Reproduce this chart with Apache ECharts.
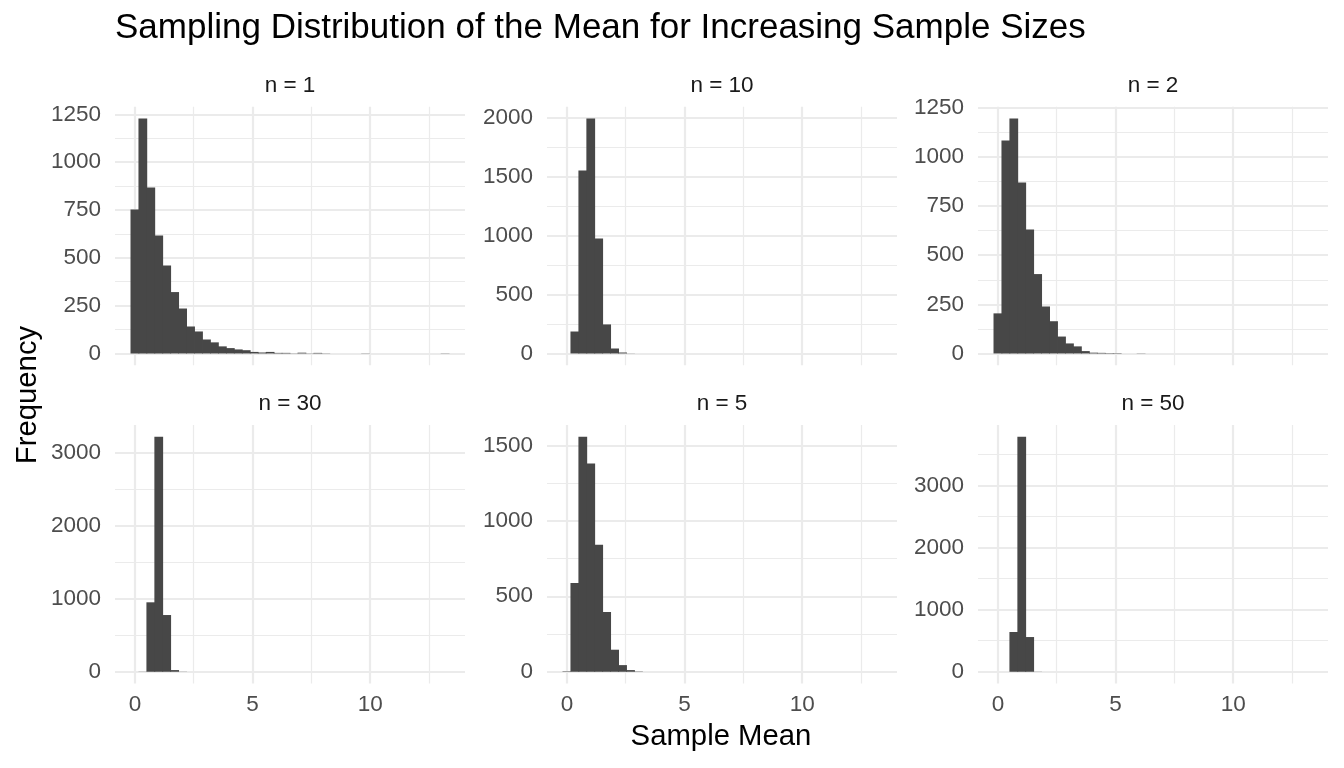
<!DOCTYPE html>
<html>
<head>
<meta charset="utf-8">
<title>Sampling Distribution of the Mean</title>
<script src="https://cdn.jsdelivr.net/npm/echarts@6/dist/echarts.min.js"></script>
<style>
  html, body { margin: 0; padding: 0; background: #fff; }
  #chart { width: 1344px; height: 768px; }
</style>
</head>
<body>
<div id="chart"></div>
<script>
const FONT = '"Liberation Sans", Arial, Helvetica, sans-serif';
const barColor = '#474747';
const gridColor = '#EBEBEB';

// histogram bins shared by every panel (bin k is centred on k * binWidth)
const binWidth = 0.338;
const binCount = 40;

const panelNames = ['n = 1', 'n = 10', 'n = 2', 'n = 30', 'n = 5', 'n = 50'];

// counts per bin
const countsN1 = [753, 1229, 868, 617, 460, 321, 235, 141, 115, 73, 58, 37, 28, 21, 17, 8, 5, 8, 3, 3,
                  1, 4, 1, 3, 1, 0, 0, 0, 0, 1, 0, 0, 0, 0, 0, 0, 0, 0, 0, 1];
const countsN10 = [0, 186, 1551, 1992, 975, 246, 42, 8, 1];
const countsN2 = [204, 1084, 1196, 870, 631, 404, 239, 164, 86, 51, 36, 12, 4, 3, 2, 2, 0, 0, 1];
const countsN30 = [0, 2, 950, 3215, 776, 23, 2];
const countsN5 = [3, 588, 1557, 1380, 841, 396, 146, 44, 11, 2];
const countsN50 = [0, 0, 640, 3785, 559, 2];
const panelCounts = [countsN1, countsN10, countsN2, countsN30, countsN5, countsN50];

// tick values
const xMajor = [0, 5, 10];
const xMinor = [2.5, 7.5, 12.5];
const yMajorN1 = [0, 250, 500, 750, 1000, 1250];
const yMinorN1 = [125, 375, 625, 875, 1125];
const yMajorN10 = [0, 500, 1000, 1500, 2000];
const yMinorN10 = [250, 750, 1250, 1750];
const yMajorN2 = [0, 250, 500, 750, 1000, 1250];
const yMinorN2 = [125, 375, 625, 875, 1125];
const yMajorN30 = [0, 1000, 2000, 3000];
const yMinorN30 = [500, 1500, 2500];
const yMajorN5 = [0, 500, 1000, 1500];
const yMinorN5 = [250, 750, 1250];
const yMajorN50 = [0, 1000, 2000, 3000];
const yMinorN50 = [500, 1500, 2500, 3500];
const yMajor = [yMajorN1, yMajorN10, yMajorN2, yMajorN30, yMajorN5, yMajorN50];
const yMinor = [yMinorN1, yMinorN10, yMinorN2, yMinorN30, yMinorN5, yMinorN50];

// panel layout
const panelLeft = [115, 547, 978];
const panelTop = [106.7, 425];
const panelW = 350;
const panelH = 258.5;

// x range like ggplot: data extent plus 5% each side
const xLo0 = -binWidth / 2;
const xHi0 = (binCount - 0.5) * binWidth;
const xPad = 0.05 * (xHi0 - xLo0);

const grids = [], xAxes = [], yAxes = [], series = [], texts = [];

panelCounts.forEach(function (counts, i) {
  const col = i % 3, row = Math.floor(i / 3);
  const maxC = Math.max.apply(null, counts);

  grids.push({ left: panelLeft[col], top: panelTop[row], width: panelW, height: panelH });

  xAxes.push({
    gridIndex: i, type: 'value', min: xLo0 - xPad, max: xHi0 + xPad,
    axisLine: { show: false }, axisTick: { show: false }, splitLine: { show: false },
    axisLabel: {
      show: row === 1, customValues: xMajor, margin: 10,
      color: '#4D4D4D', fontSize: 22.5, fontFamily: FONT,
      formatter: function (v) { return String(v); }
    }
  });

  yAxes.push({
    gridIndex: i, type: 'value', min: -0.05 * maxC, max: 1.05 * maxC,
    axisLine: { show: false }, axisTick: { show: false }, splitLine: { show: false },
    axisLabel: {
      customValues: yMajor[i], margin: 14,
      color: '#4D4D4D', fontSize: 22.5, fontFamily: FONT,
      formatter: function (v) { return String(v); }
    }
  });

  // panel grid lines
  const lines = [];
  xMinor.forEach(v => lines.push({ xAxis: v, lineStyle: { color: gridColor, width: 1.2, type: 'solid' } }));
  yMinor[i].forEach(v => lines.push({ yAxis: v, lineStyle: { color: gridColor, width: 1.2, type: 'solid' } }));
  xMajor.forEach(v => lines.push({ xAxis: v, lineStyle: { color: gridColor, width: 2.2, type: 'solid' } }));
  yMajor[i].forEach(v => lines.push({ yAxis: v, lineStyle: { color: gridColor, width: 2.2, type: 'solid' } }));

  const data = [];
  counts.forEach(function (c, k) {
    if (c > 0) data.push([k * binWidth, c]);
  });

  series.push({
    type: 'custom',
    xAxisIndex: i, yAxisIndex: i,
    z: 2,
    silent: true,
    data: data,
    renderItem: function (params, api) {
      const x = api.value(0), c = api.value(1);
      const p0 = api.coord([x - binWidth / 2, c]);
      const p1 = api.coord([x + binWidth / 2, 0]);
      // widen a touch so neighbouring bars overlap and no seam shows
      return {
        type: 'rect',
        shape: { x: p0[0] - 0.4, y: p0[1], width: p1[0] - p0[0] + 0.8, height: p1[1] - p0[1] },
        style: { fill: barColor }
      };
    },
    markLine: {
      silent: true, z: 1, animation: false,
      symbol: ['none', 'none'],
      label: { show: false },
      emphasis: { disabled: true },
      data: lines
    }
  });

  // facet strip label
  texts.push({
    type: 'text', x: panelLeft[col] + panelW / 2, y: panelTop[row] - 21,
    style: { text: panelNames[i], fill: '#1A1A1A', font: '22.5px ' + FONT,
             textAlign: 'center', textVerticalAlign: 'middle' }
  });
});

texts.push({
  type: 'text', x: 115, y: 28.5,
  style: { text: 'Sampling Distribution of the Mean for Increasing Sample Sizes',
           fill: '#000', font: '35px ' + FONT, textAlign: 'left', textVerticalAlign: 'middle' }
});
texts.push({
  type: 'text', x: 721, y: 737,
  style: { text: 'Sample Mean', fill: '#000', font: '29.3px ' + FONT,
           textAlign: 'center', textVerticalAlign: 'middle' }
});
texts.push({
  type: 'text', x: 28, y: 395, rotation: Math.PI / 2,
  style: { text: 'Frequency', fill: '#000', font: '29.3px ' + FONT,
           textAlign: 'center', textVerticalAlign: 'middle' }
});

const chart = echarts.init(document.getElementById('chart'));
chart.setOption({
  animation: false,
  backgroundColor: '#fff',
  grid: grids,
  xAxis: xAxes,
  yAxis: yAxes,
  series: series,
  graphic: texts
});
</script>
</body>
</html>
